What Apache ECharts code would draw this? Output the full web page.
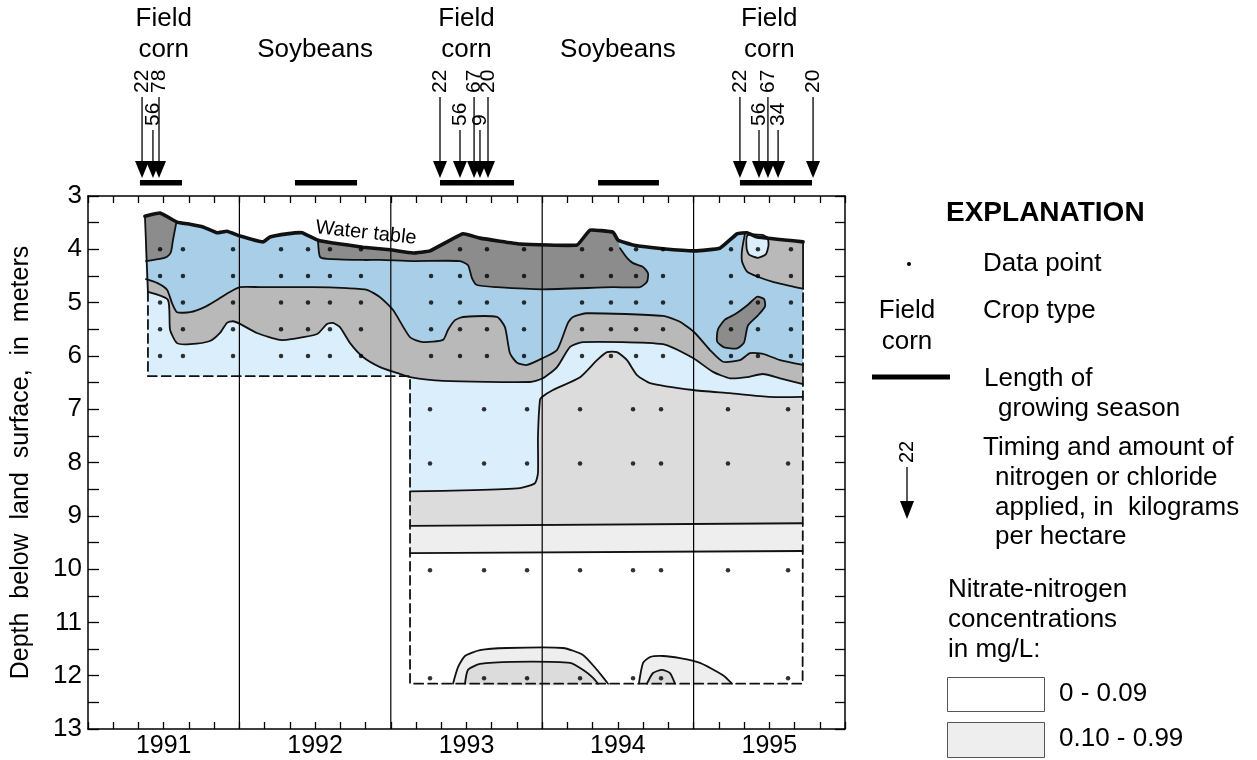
<!DOCTYPE html>
<html>
<head>
<meta charset="utf-8">
<title>Nitrate-nitrogen below the water table, 1991-1995</title>
<script src="https://cdn.jsdelivr.net/npm/echarts@6/dist/echarts.min.js"></script>
<style>
html, body { margin: 0; padding: 0; background: #fff; }
#chart { width: 1257px; height: 760px; }
</style>
</head>
<body>
<div id="chart"></div>
<script>
// x values are decimal years, y values are depth below land surface (m)
const yearLabels = [1991, 1992, 1993, 1994, 1995];
const yearBounds = [1992, 1993, 1994, 1995];

const cropNames = ['Field\ncorn', 'Soybeans', 'Field\ncorn', 'Soybeans', 'Field\ncorn'];
const seasonStart = [1991.343, 1992.367, 1993.325, 1994.369, 1995.306];
const seasonEnd = [1991.621, 1992.777, 1993.814, 1994.771, 1995.782];

// fertilizer / chloride applications, kg per hectare
const applyDates = [1991.357, 1991.429, 1991.469,
  1993.325, 1993.457, 1993.550, 1993.589, 1993.642,
  1995.306, 1995.432, 1995.491, 1995.558, 1995.789];
const applyAmounts = [22, 56, 78, 22, 56, 67, 9, 20, 22, 56, 67, 34, 20];

// sampling points
const upperDotYears = [1991.476, 1991.627, 1991.958, 1992.275, 1992.453, 1992.598, 1992.803,
  1993.266, 1993.457, 1993.635, 1993.880, 1994.263, 1994.454, 1994.620, 1994.798,
  1995.247, 1995.425, 1995.643];
const upperDotDepths = [4, 4.5, 5, 5.5, 6];
const lowerDotYears = [1993.259, 1993.616, 1993.900, 1994.250, 1994.600, 1994.785, 1995.227, 1995.624];
const lowerDotDepths = [7, 8.02, 10.02, 12.05];
const missingDots = [[1993.266, 4], [1995.227, 12.05]];

const waterTable = [[1991.376, 3.38], [1991.476, 3.32], [1991.588, 3.49], [1991.674, 3.53], [1991.760, 3.58],
  [1991.852, 3.69], [1991.918, 3.66], [1992.004, 3.75], [1992.156, 3.86], [1992.202, 3.77], [1992.314, 3.71],
  [1992.413, 3.69], [1992.519, 3.83], [1992.618, 3.88], [1992.816, 3.96], [1992.995, 4.01], [1993.147, 4.07],
  [1993.259, 4.03], [1993.477, 3.71], [1993.589, 3.79], [1993.853, 3.90], [1994.230, 3.92], [1994.316, 3.64],
  [1994.468, 3.68], [1994.501, 3.83], [1994.600, 3.92], [1994.798, 3.99], [1995.009, 4.03], [1995.174, 3.98],
  [1995.287, 3.71], [1995.353, 3.69], [1995.419, 3.77], [1995.723, 3.86]];

const regionOutline = [[1991.396, 4.80], [1991.396, 6.38], [1993.127, 6.38], [1993.127, 12.15],
  [1995.72, 12.15], [1995.723, 4.74]];
const leftEdgeTop = [[1991.376, 3.38], [1991.396, 4.80]];
const rightEdgeTop = [[1995.723, 3.86], [1995.723, 4.74]];

// contour between the blue band and the gray band below it
const lineA = [[1991.383, 4.56], [1991.456, 4.63], [1991.522, 4.76], [1991.555, 5.01], [1991.588, 5.18],
  [1991.674, 5.18], [1991.773, 5.08], [1991.852, 4.95], [1991.925, 4.82], [1992.004, 4.71], [1992.136, 4.71],
  [1992.486, 4.71], [1992.711, 4.73], [1992.843, 4.76], [1992.929, 4.90], [1993.015, 5.14], [1993.127, 5.65],
  [1993.213, 5.74], [1993.345, 5.70], [1993.378, 5.51], [1993.424, 5.33], [1993.477, 5.27], [1993.701, 5.27],
  [1993.754, 5.46], [1993.787, 5.95], [1993.834, 6.13], [1993.900, 6.17], [1994.005, 6.04], [1994.098, 5.89],
  [1994.170, 5.38], [1994.203, 5.27], [1994.296, 5.20], [1994.798, 5.25], [1994.910, 5.36], [1995.009, 5.57],
  [1995.108, 5.89], [1995.194, 6.11], [1995.306, 6.08], [1995.373, 5.95], [1995.458, 5.96], [1995.571, 6.08],
  [1995.723, 6.17]];
const lineB = [[1991.396, 4.80], [1991.528, 4.95], [1991.542, 5.51], [1991.588, 5.76], [1991.674, 5.78],
  [1991.806, 5.72], [1991.872, 5.57], [1991.918, 5.38], [1991.958, 5.35], [1992.004, 5.40], [1992.116, 5.57],
  [1992.268, 5.70], [1992.354, 5.68], [1992.513, 5.59], [1992.579, 5.40], [1992.618, 5.38], [1992.664, 5.46],
  [1992.731, 5.76], [1992.816, 6.02], [1992.929, 6.21], [1993.041, 6.32], [1993.127, 6.40], [1993.345, 6.47],
  [1993.919, 6.49], [1994.005, 6.42], [1994.098, 6.21], [1994.184, 5.83], [1994.269, 5.74], [1994.798, 5.78],
  [1994.996, 6.04], [1995.128, 6.30], [1995.240, 6.42], [1995.353, 6.40], [1995.458, 6.34], [1995.571, 6.42],
  [1995.723, 6.53]];
const hillTop = [[1993.127, 8.54], [1993.543, 8.52], [1993.853, 8.48], [1993.952, 8.39], [1993.972, 8.20],
  [1993.972, 7.52], [1993.985, 6.83], [1993.999, 6.77], [1994.071, 6.64], [1994.250, 6.40], [1994.362, 6.08],
  [1994.428, 5.93], [1994.494, 5.93], [1994.560, 6.08], [1994.626, 6.36], [1994.712, 6.51], [1994.996, 6.64],
  [1995.240, 6.70], [1995.505, 6.77], [1995.723, 6.77]];
const bandTop = [[1993.127, 9.19], [1995.72, 9.14]];
const bandBottom = [[1993.127, 9.70], [1995.72, 9.66]];

const dp1Edge = [[1991.584, 3.49], [1991.561, 3.83], [1991.548, 4.05], [1991.522, 4.14], [1991.476, 4.18], [1991.383, 4.22]];
const dp2Edge = [[1994.514, 3.98], [1994.560, 4.16], [1994.600, 4.26], [1994.666, 4.33], [1994.699, 4.45],
  [1994.692, 4.61], [1994.646, 4.71], [1994.468, 4.71], [1993.999, 4.75], [1993.701, 4.71], [1993.569, 4.67],
  [1993.536, 4.54], [1993.510, 4.30], [1993.457, 4.22], [1993.147, 4.22], [1992.929, 4.20], [1992.816, 4.20],
  [1992.579, 4.18], [1992.532, 4.14], [1992.519, 3.83]];
const gr5Edge = [[1995.339, 3.71], [1995.320, 4.01], [1995.320, 4.23], [1995.353, 4.42], [1995.419, 4.51],
  [1995.524, 4.61], [1995.723, 4.74]];
const blueLens = [[1995.356, 3.74], [1995.350, 3.98], [1995.366, 4.10], [1995.425, 4.16], [1995.478, 4.09],
  [1995.495, 3.92], [1995.488, 3.78], [1995.452, 3.73]];
const darkBlob = [[1995.161, 5.50], [1995.155, 5.73], [1995.201, 5.84], [1995.287, 5.86], [1995.333, 5.75],
  [1995.359, 5.43], [1995.425, 5.24], [1995.472, 5.07], [1995.465, 4.93], [1995.419, 4.89], [1995.359, 5.04],
  [1995.273, 5.22], [1995.207, 5.32]];

const bump1Outer = [[1993.411, 12.15], [1993.444, 11.84], [1993.490, 11.63], [1993.589, 11.52], [1993.768, 11.48],
  [1994.137, 11.48], [1994.269, 11.61], [1994.362, 11.89], [1994.435, 12.15]];
const bump1Inner = [[1993.490, 12.15], [1993.510, 11.89], [1993.589, 11.78], [1993.807, 11.74], [1994.184, 11.76],
  [1994.269, 11.89], [1994.336, 12.04], [1994.369, 12.15]];
const bump2Outer = [[1994.639, 12.15], [1994.666, 11.76], [1994.712, 11.65], [1994.798, 11.63], [1994.910, 11.67],
  [1995.042, 11.76], [1995.194, 11.99], [1995.254, 12.15]];
const bump2Inner = [[1994.692, 12.15], [1994.732, 11.95], [1994.791, 11.89], [1994.844, 11.95], [1994.877, 12.15]];

const FONT = '"Liberation Sans", Arial, Helvetica, sans-serif';
const C_DARK = '#8c8c8c', C_GRAY = '#b9b9b9', C_BLUE = '#a9cfe8', C_LBLUE = '#daeefb',
  C_LGRAY = '#dcdcdc', C_XLGRAY = '#eeeeee';
const SMOOTH = 0.2;

const toM = yr => (yr - 1991) * 12;   // axis runs in months from Jan 1991

function fillArea(points, color, smooth) {
  return {
    type: 'custom', silent: true, data: [[0, 3]],
    renderItem: (params, api) => ({
      type: 'polygon',
      shape: { points: points.map(p => api.coord([toM(p[0]), p[1]])), smooth: smooth || 0 },
      style: { fill: color }
    })
  };
}
function stroke(points, width, opts) {
  opts = opts || {};
  return {
    type: 'custom', silent: true, data: [[0, 3]],
    renderItem: (params, api) => ({
      type: opts.closed ? 'polygon' : 'polyline',
      shape: { points: points.map(p => api.coord([toM(p[0]), p[1]])), smooth: opts.smooth || 0 },
      style: { fill: null, stroke: '#111', lineWidth: width, lineDash: opts.dash || null, lineJoin: 'round', lineCap: 'round' }
    })
  };
}
const contour = pts => stroke(pts, 1.8, { smooth: SMOOTH });
const ring = pts => stroke(pts, 1.8, { smooth: SMOOTH, closed: true });

const wtBetween = (a, b) => waterTable.filter(p => p[0] >= a && p[0] <= b);
const lightBlueZone = waterTable.concat([[1995.723, 6.77]], hillTop.slice().reverse(), [[1993.127, 6.38], [1991.396, 6.38]]);
const grayZone = waterTable.concat(lineB.slice().reverse());
const blueZone = waterTable.concat(lineA.slice().reverse());
const hillZone = hillTop.concat([bandTop[1], bandTop[0]]);
const bandZone = bandTop.concat([bandBottom[1], bandBottom[0]]);
const dp1 = wtBetween(1991, 1991.5).concat(dp1Edge);
const dp2 = wtBetween(1992.519, 1994.501).concat(dp2Edge);
const gr5 = gr5Edge.concat(wtBetween(1995.34, 1996).reverse());

const dots = [];
upperDotDepths.forEach(d => upperDotYears.forEach(y => dots.push([y, d])));
lowerDotDepths.forEach(d => lowerDotYears.forEach(y => dots.push([y, d])));
const dotData = dots.filter(p => !missingDots.some(m => m[0] === p[0] && m[1] === p[1]))
  .map(p => [toM(p[0]), p[1]]);

// label row alternates within each season
const applyRow = applyDates.map((d, i) => {
  let k = 0;
  for (let j = 0; j < i; j++) if (Math.floor(applyDates[j]) === Math.floor(d)) k++;
  return k % 2;
});

const chart = echarts.init(document.getElementById('chart'));

const axisCommon = {
  type: 'value',
  axisLine: { onZero: false, lineStyle: { color: '#000', width: 1.5 } },
  splitLine: { show: false }
};

const option = {
  animation: false,
  textStyle: { fontFamily: FONT, color: '#000' },
  grid: { left: 88, right: 412, top: 196, bottom: 31 },
  xAxis: [
    Object.assign({}, axisCommon, {
      min: 0, max: 60, interval: 2, position: 'bottom',
      axisTick: { inside: true, length: 7, lineStyle: { color: '#000', width: 1.3 } },
      axisLabel: {
        fontSize: 25, color: '#000', margin: 5, fontFamily: FONT,
        formatter: v => (v % 12 === 6 ? String(yearLabels[(v - 6) / 12]) : '')
      }
    }),
    Object.assign({}, axisCommon, {
      min: 0, max: 60, interval: 2, position: 'top',
      axisTick: { inside: true, length: 7, lineStyle: { color: '#000', width: 1.3 } },
      axisLabel: { show: false }
    })
  ],
  yAxis: [
    Object.assign({}, axisCommon, {
      min: 3, max: 13, interval: 0.5, inverse: true, position: 'left',
      axisTick: { inside: true, length: 11, lineStyle: { color: '#000', width: 1.3 } },
      axisLabel: {
        fontSize: 26, color: '#000', margin: 6, fontFamily: FONT, showMinLabel: true, showMaxLabel: true,
        formatter: v => (Number.isInteger(v) ? String(v) : '')
      },
      name: 'Depth  below  land  surface,  in  meters',
      nameLocation: 'middle', nameGap: 54, nameRotate: 90,
      nameTextStyle: { fontSize: 25, color: '#000', fontFamily: FONT }
    }),
    Object.assign({}, axisCommon, {
      min: 3, max: 13, interval: 0.5, inverse: true, position: 'right',
      axisTick: { inside: true, length: 10, lineStyle: { color: '#000', width: 1.3 } },
      axisLabel: { show: false }
    })
  ],
  graphic: [
    { type: 'text', x: 366, y: 233, rotation: -0.11,
      style: { text: 'Water table', fontSize: 20, fontFamily: FONT, fill: '#000', align: 'center', verticalAlign: 'middle' } },
    { type: 'text', x: 946, y: 213,
      style: { text: 'EXPLANATION', fontSize: 28, fontWeight: 'bold', fontFamily: FONT, fill: '#000', verticalAlign: 'middle' } },
    { type: 'circle', shape: { cx: 909, cy: 264, r: 2 }, style: { fill: '#000' } },
    { type: 'text', x: 983, y: 264, style: { text: 'Data point', fontSize: 26, fontFamily: FONT, fill: '#000', verticalAlign: 'middle' } },
    { type: 'text', x: 907, y: 326, style: { text: 'Field\ncorn', fontSize: 26, lineHeight: 31, fontFamily: FONT, fill: '#000', align: 'center', verticalAlign: 'middle' } },
    { type: 'text', x: 983, y: 311, style: { text: 'Crop type', fontSize: 26, fontFamily: FONT, fill: '#000', verticalAlign: 'middle' } },
    { type: 'line', shape: { x1: 872, y1: 377, x2: 950, y2: 377 }, style: { stroke: '#000', lineWidth: 5 } },
    { type: 'text', x: 984, y: 379, style: { text: 'Length of', fontSize: 26, fontFamily: FONT, fill: '#000', verticalAlign: 'middle' } },
    { type: 'text', x: 998, y: 409, style: { text: 'growing season', fontSize: 26, fontFamily: FONT, fill: '#000', verticalAlign: 'middle' } },
    { type: 'text', x: 907, y: 463, rotation: Math.PI / 2,
      style: { text: '22', fontSize: 20, fontFamily: FONT, fill: '#000', align: 'left', verticalAlign: 'middle' } },
    { type: 'line', shape: { x1: 907, y1: 467, x2: 907, y2: 503 }, style: { stroke: '#000', lineWidth: 1.3 } },
    { type: 'polygon', shape: { points: [[900, 501], [914, 501], [907, 519]] }, style: { fill: '#000' } },
    { type: 'text', x: 983, y: 448, style: { text: 'Timing and amount of', fontSize: 26, fontFamily: FONT, fill: '#000', verticalAlign: 'middle' } },
    { type: 'text', x: 995, y: 478, style: { text: 'nitrogen or chloride', fontSize: 26, fontFamily: FONT, fill: '#000', verticalAlign: 'middle' } },
    { type: 'text', x: 995, y: 508, style: { text: 'applied, in  kilograms', fontSize: 26, fontFamily: FONT, fill: '#000', verticalAlign: 'middle' } },
    { type: 'text', x: 995, y: 537, style: { text: 'per hectare', fontSize: 26, fontFamily: FONT, fill: '#000', verticalAlign: 'middle' } },
    { type: 'text', x: 948, y: 590, style: { text: 'Nitrate-nitrogen', fontSize: 26, fontFamily: FONT, fill: '#000', verticalAlign: 'middle' } },
    { type: 'text', x: 948, y: 620, style: { text: 'concentrations', fontSize: 26, fontFamily: FONT, fill: '#000', verticalAlign: 'middle' } },
    { type: 'text', x: 948, y: 650, style: { text: 'in mg/L:', fontSize: 26, fontFamily: FONT, fill: '#000', verticalAlign: 'middle' } },
    { type: 'rect', shape: { x: 947.5, y: 677.5, width: 97, height: 34 }, style: { fill: '#fff', stroke: '#555', lineWidth: 1 } },
    { type: 'text', x: 1059, y: 694, style: { text: '0 - 0.09', fontSize: 26, fontFamily: FONT, fill: '#000', verticalAlign: 'middle' } },
    { type: 'rect', shape: { x: 947.5, y: 722.5, width: 97, height: 35 }, style: { fill: C_XLGRAY, stroke: '#555', lineWidth: 1 } },
    { type: 'text', x: 1059, y: 739, style: { text: '0.10 - 0.99', fontSize: 26, fontFamily: FONT, fill: '#000', verticalAlign: 'middle' } }
  ],
  series: [
    fillArea(lightBlueZone, C_LBLUE),
    fillArea(hillZone, C_LGRAY),
    fillArea(bandZone, C_XLGRAY),
    fillArea(bump1Outer, C_XLGRAY, SMOOTH),
    fillArea(bump1Inner, C_LGRAY, SMOOTH),
    fillArea(bump2Outer, C_XLGRAY, SMOOTH),
    fillArea(bump2Inner, C_LGRAY, SMOOTH),
    fillArea(grayZone, C_GRAY),
    fillArea(blueZone, C_BLUE),
    fillArea(gr5, C_GRAY),
    fillArea(blueLens, C_LBLUE, SMOOTH),
    fillArea(dp1, C_DARK),
    fillArea(dp2, C_DARK),
    fillArea(darkBlob, C_DARK, SMOOTH),
    contour(lineA), contour(lineB), contour(hillTop),
    stroke(bandTop, 1.8), stroke(bandBottom, 1.8),
    contour(bump1Outer), contour(bump1Inner), contour(bump2Outer), contour(bump2Inner),
    contour(gr5Edge), ring(blueLens),
    contour(dp1Edge), contour(dp2Edge), ring(darkBlob),
    stroke(leftEdgeTop, 1.8), stroke(rightEdgeTop, 1.8),
    {
      // year boundaries
      type: 'custom', silent: true,
      data: yearBounds.map(y => [toM(y), 3]),
      renderItem: (params, api) => {
        const a = api.coord([api.value(0), 3]), b = api.coord([api.value(0), 13]);
        return { type: 'line', shape: { x1: a[0], y1: a[1], x2: b[0], y2: b[1] }, style: { stroke: '#000', lineWidth: 1.2 } };
      }
    },
    stroke(regionOutline, 1.8, { dash: [9, 5] }),
    stroke(waterTable, 3.6, { smooth: 0.1 }),
    {
      type: 'scatter', silent: true, symbol: 'circle', symbolSize: 4.5,
      itemStyle: { color: '#000' }, data: dotData
    },
    {
      // crop names and growing seasons above the plot
      type: 'custom', silent: true,
      data: cropNames.map((c, i) => [toM(seasonStart[i]), 3]),
      renderItem: (params, api) => {
        const i = params.dataIndex;
        const top = api.coord([0, 3])[1];
        const x1 = api.coord([toM(seasonStart[i]), 3])[0];
        const x2 = api.coord([toM(seasonEnd[i]), 3])[0];
        const cx = api.coord([toM(yearLabels[i] + 0.5), 3])[0];
        return {
          type: 'group', children: [
            { type: 'rect', shape: { x: x1, y: top - 16, width: x2 - x1, height: 5.5 }, style: { fill: '#000' } },
            { type: 'text', x: cx, y: top - 131,
              style: { text: cropNames[i], fontSize: 26, lineHeight: 31, fontFamily: FONT, fill: '#000', align: 'center', verticalAlign: 'bottom' } }
          ]
        };
      }
    },
    {
      // application arrows
      type: 'custom', silent: true,
      data: applyDates.map(d => [toM(d), 3]),
      renderItem: (params, api) => {
        const i = params.dataIndex;
        const p = api.coord([api.value(0), 3]);
        const x = p[0], top = p[1];
        const labelBottom = top - (applyRow[i] ? 70 : 103);
        const headTop = top - 35, tip = top - 18;
        return {
          type: 'group', children: [
            { type: 'line', shape: { x1: x, y1: labelBottom + 4, x2: x, y2: headTop + 2 }, style: { stroke: '#000', lineWidth: 1.3 } },
            { type: 'polygon', shape: { points: [[x - 7, headTop], [x + 7, headTop], [x, tip]] }, style: { fill: '#000' } },
            { type: 'text', x: x, y: labelBottom, rotation: Math.PI / 2,
              style: { text: String(applyAmounts[i]), fontSize: 21, fontFamily: FONT, fill: '#000', align: 'left', verticalAlign: 'middle' } }
          ]
        };
      }
    }
  ]
};

chart.setOption(option);
</script>
</body>
</html>
